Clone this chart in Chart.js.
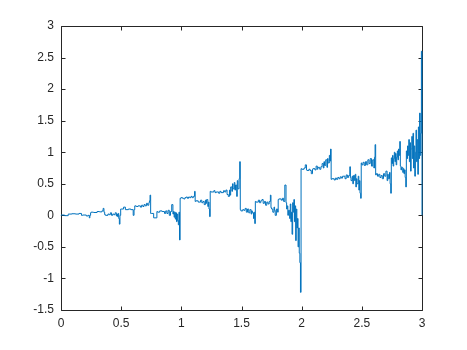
<!DOCTYPE html>
<html>
<head>
<meta charset="utf-8">
<script src="https://cdn.jsdelivr.net/npm/chart.js@4/dist/chart.umd.min.js"></script>
<style>
  body { margin: 0; background: #fff; }
</style>
</head>
<body>
<canvas id="myChart" width="467" height="350"></canvas>
<script>
// tick labels
const xTicks = [0, 0.5, 1, 1.5, 2, 2.5, 3];
const yTicks = [-1.5, -1, -0.5, 0, 0.5, 1, 1.5, 2, 2.5, 3];

// signal, one small array per quarter of the x range  [x, y]
const seg1 = [[0,0],[0.03,0.005],[0.06,-0.005],[0.09,0.02],[0.12,0.025],[0.15,0.02],[0.17,0.03],[0.18,0.0],[0.21,0.005],[0.225,-0.01],[0.235,0.0],[0.24,-0.04],[0.246,0.0]];
const seg2 = [[0.25,0.04],[0.27,0.05],[0.3,0.045],[0.32,0.06],[0.34,0.055],[0.35,0.07],[0.357,0.11],[0.363,0.05],[0.37,0.01],[0.39,0.0],[0.4,0.02],[0.41,0.01],[0.42,0.04],[0.43,0.0],[0.44,0.02],[0.45,0.01],[0.46,0.04],[0.465,-0.01],[0.47,0.02],[0.475,-0.02],[0.48,0.03],[0.485,-0.05],[0.49,-0.14],[0.496,0.0]];
const seg3 = [[0.5,0.1],[0.52,0.1],[0.535,0.13],[0.54,0.09],[0.56,0.09],[0.58,0.1],[0.6,0.09],[0.607,0.0],[0.613,0.09],[0.625,0.15],[0.64,0.14],[0.66,0.15],[0.67,0.13],[0.68,0.16],[0.69,0.14],[0.7,0.17],[0.71,0.15],[0.72,0.19],[0.73,0.16],[0.735,0.2],[0.74,0.23],[0.745,0.32]];
const seg4 = [[0.75,0.03],[0.77,0.03],[0.797,-0.04],[0.803,0.06],[0.82,0.05],[0.84,0.07],[0.86,0.06],[0.87,0.03],[0.88,0.07],[0.89,0.03],[0.9,0.08],[0.91,0.0],[0.92,0.06],[0.93,0.17],[0.935,0.02],[0.94,0.06],[0.945,-0.03],[0.95,0.05],[0.955,-0.06],[0.96,0.04],[0.965,-0.1],[0.97,0.02],[0.975,-0.08],[0.98,-0.15],[0.985,0.05],[0.99,-0.39]];
const seg5 = [[0.997,0.27],[1.01,0.28],[1.02,0.27],[1.03,0.26],[1.04,0.28],[1.05,0.29],[1.06,0.27],[1.07,0.29],[1.08,0.28],[1.09,0.3],[1.1,0.28],[1.11,0.3],[1.115,0.38],[1.12,0.22],[1.14,0.23],[1.16,0.21],[1.17,0.24],[1.18,0.2],[1.19,0.22],[1.2,0.17],[1.205,0.24],[1.21,0.19],[1.22,0.25],[1.225,0.14],[1.23,0.21],[1.235,0.1],[1.24,-0.02]];
const seg6 = [[1.245,0.38],[1.27,0.37],[1.28,0.39],[1.29,0.36],[1.31,0.37],[1.32,0.35],[1.33,0.38],[1.35,0.36],[1.36,0.39],[1.37,0.37],[1.38,0.4],[1.39,0.33],[1.4,0.3],[1.405,0.4],[1.41,0.32],[1.42,0.45],[1.425,0.38],[1.43,0.5],[1.44,0.42],[1.445,0.52],[1.45,0.4],[1.46,0.48],[1.465,0.3],[1.47,0.55],[1.48,0.42],[1.485,0.58],[1.49,0.85]];
const seg7 = [[1.495,0.09],[1.51,0.07],[1.52,0.09],[1.53,0.08],[1.54,0.11],[1.55,0.05],[1.56,0.1],[1.57,0.04],[1.58,0.09],[1.585,0.02],[1.59,0.07],[1.6,0.04],[1.605,-0.05],[1.61,0.05],[1.615,-0.13],[1.62,0.22],[1.64,0.21],[1.65,0.24],[1.66,0.2],[1.67,0.23],[1.68,0.25],[1.69,0.19],[1.7,0.22],[1.71,0.16],[1.72,0.21],[1.73,0.18],[1.74,0.22],[1.745,0.32]];
const seg8 = [[1.75,0.12],[1.76,0.1],[1.77,0.05],[1.775,0.13],[1.78,0.08],[1.79,0.0],[1.8,0.1],[1.805,0.05],[1.81,0.25],[1.83,0.26],[1.84,0.24],[1.85,0.27],[1.86,0.22],[1.87,0.48],[1.875,0.2],[1.88,0.1],[1.885,0.15],[1.89,0.0],[1.9,0.08],[1.905,-0.05],[1.91,0.18],[1.915,-0.1],[1.92,0.05],[1.925,-0.3],[1.93,0.2],[1.935,0.05],[1.94,0.25],[1.945,-0.1],[1.95,0.15],[1.955,-0.4],[1.96,0.1],[1.965,-0.2],[1.97,-0.05],[1.975,-0.5],[1.98,-0.2],[1.985,-0.6],[1.99,-0.75],[1.995,-1.22]];
const seg9 = [[2.0,0.74],[2.02,0.73],[2.03,0.75],[2.04,0.8],[2.045,0.72],[2.06,0.71],[2.07,0.73],[2.08,0.71],[2.09,0.66],[2.095,0.73],[2.11,0.74],[2.12,0.72],[2.13,0.78],[2.135,0.73],[2.15,0.76],[2.16,0.73],[2.17,0.77],[2.18,0.82],[2.185,0.75],[2.19,0.85],[2.2,0.79],[2.21,0.88],[2.215,0.76],[2.22,0.9],[2.23,0.83],[2.235,0.95],[2.24,0.86],[2.245,1.05]];
const seg10 = [[2.25,0.57],[2.27,0.58],[2.28,0.56],[2.29,0.59],[2.3,0.57],[2.31,0.6],[2.32,0.58],[2.33,0.61],[2.34,0.59],[2.36,0.62],[2.37,0.58],[2.38,0.64],[2.39,0.6],[2.4,0.63],[2.405,0.77],[2.41,0.6],[2.42,0.55],[2.425,0.62],[2.43,0.5],[2.44,0.63],[2.445,0.55],[2.45,0.65],[2.455,0.45],[2.46,0.58],[2.47,0.5],[2.475,0.62],[2.48,0.4],[2.485,0.55],[2.49,0.35],[2.495,0.27]];
const seg11 = [[2.5,0.83],[2.51,0.8],[2.52,0.84],[2.53,0.79],[2.54,0.85],[2.55,0.8],[2.56,0.88],[2.57,0.82],[2.58,0.9],[2.59,0.78],[2.6,0.88],[2.605,0.75],[2.61,0.92],[2.615,1.12],[2.62,0.64],[2.63,0.66],[2.64,0.62],[2.65,0.65],[2.66,0.6],[2.67,0.63],[2.68,0.58],[2.69,0.66],[2.7,0.62],[2.71,0.7],[2.715,0.55],[2.72,0.65],[2.73,0.58],[2.735,0.68],[2.74,0.5],[2.745,0.35]];
const seg12 = [[2.75,0.91],[2.755,0.82],[2.76,0.95],[2.765,0.78],[2.77,0.9],[2.775,1.0],[2.78,0.85],[2.785,0.98],[2.79,0.8],[2.795,0.92],[2.8,1.02],[2.805,0.88],[2.81,1.05],[2.815,0.95],[2.82,1.17],[2.825,0.78],[2.83,0.72],[2.84,0.76],[2.845,0.68],[2.85,0.74],[2.855,0.66],[2.86,0.72],[2.865,0.6],[2.87,0.45],[2.875,1.02],[2.88,0.9],[2.885,1.1],[2.89,0.95],[2.895,1.2],[2.9,0.85],[2.905,1.15],[2.91,0.7],[2.915,1.05],[2.92,1.25],[2.925,0.9],[2.93,1.3],[2.935,0.75],[2.94,1.1],[2.945,0.62],[2.95,1.0],[2.955,1.35],[2.96,0.85],[2.965,1.2],[2.97,0.65],[2.975,1.4],[2.98,0.9],[2.985,1.62],[2.99,0.95],[2.995,1.3],[3.0,2.6],[3.0,0.0]];

const points = [seg1, seg2, seg3, seg4, seg5, seg6, seg7, seg8, seg9, seg10, seg11, seg12]
  .flat().map(p => ({x: p[0], y: p[1]}));

const axisColor = '#262626';

// matlab style box with ticks pointing inward on all four sides
const boxPlugin = {
  id: 'box',
  beforeDatasetsDraw(chart) {
    const {ctx, chartArea: a, scales} = chart;
    ctx.save();
    ctx.strokeStyle = axisColor;
    ctx.lineWidth = 1;
    ctx.beginPath();
    ctx.rect(a.left + 0.5, a.top + 0.5, a.right - a.left, a.bottom - a.top);
    xTicks.forEach(v => {
      const px = Math.round(scales.x.getPixelForValue(v)) + 0.5;
      ctx.moveTo(px, a.bottom + 0.5); ctx.lineTo(px, a.bottom - 3.5);
      ctx.moveTo(px, a.top + 0.5); ctx.lineTo(px, a.top + 4.5);
    });
    yTicks.forEach(v => {
      const py = Math.round(scales.y.getPixelForValue(v)) + 0.5;
      ctx.moveTo(a.left + 0.5, py); ctx.lineTo(a.left + 4.5, py);
      ctx.moveTo(a.right + 0.5, py); ctx.lineTo(a.right - 3.5, py);
    });
    ctx.stroke();
    ctx.restore();
  }
};

new Chart("myChart", {
  type: "line",
  data: {
    datasets: [{
      data: points,
      borderColor: "#0072BD",
      borderWidth: 1,
      pointRadius: 0,
      stepped: 'after',
      fill: false,
      clip: 4
    }]
  },
  options: {
    responsive: false,
    animation: false,
    layout: {padding: {top: 26, right: 45, left: 0, bottom: 0}},
    plugins: {legend: {display: false}, tooltip: {enabled: false}},
    scales: {
      x: {
        type: 'linear', min: 0, max: 3,
        afterFit: s => { s.height = 40; },
        afterBuildTicks: s => { s.ticks = xTicks.map(v => ({value: v})); },
        grid: {display: false, drawTicks: false},
        border: {display: false},
        ticks: {color: axisColor, font: {family: 'Liberation Sans', size: 12}, padding: 6, maxRotation: 0, callback: v => String(v)}
      },
      y: {
        type: 'linear', min: -1.5, max: 3,
        afterFit: s => { s.width = 61; },
        afterBuildTicks: s => { s.ticks = yTicks.map(v => ({value: v})); },
        grid: {display: false, drawTicks: false},
        border: {display: false},
        ticks: {color: axisColor, font: {family: 'Liberation Sans', size: 12}, padding: 7, callback: v => String(v)}
      }
    }
  },
  plugins: [boxPlugin]
});
</script>
</body>
</html>
